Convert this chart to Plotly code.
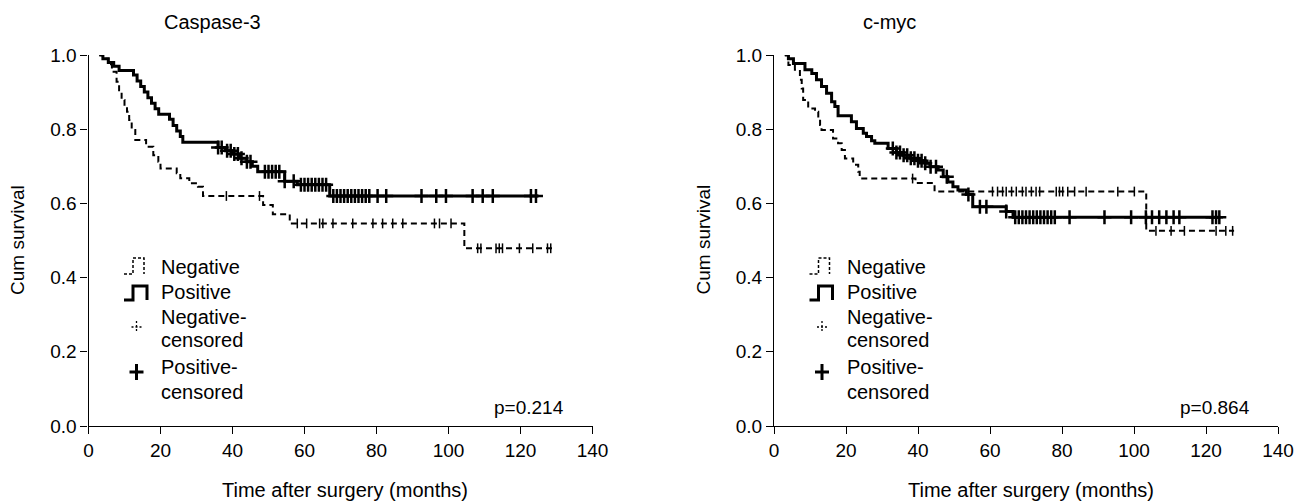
import plotly.graph_objects as go

# ---------------- data ----------------
titles = ["Caspase-3", "c-myc"]
p_values = ["p=0.214", "p=0.864"]
x_ticks = [0, 20, 40, 60, 80, 100, 120, 140]
y_ticks = [0.0, 0.2, 0.4, 0.6, 0.8, 1.0]
y_tick_labels = ["0.0", "0.2", "0.4", "0.6", "0.8", "1.0"]
legend_labels = ["Negative", "Positive", "Negative-", "censored", "Positive-", "censored"]

# Caspase-3, Positive
casp_pos_t = [3, 4, 5.5, 7, 8.5, 12.5, 13.5, 14.5, 15.5, 16.5, 17.5, 18.5, 19.5, 22.5, 23.5,
              24.5, 25.5, 26.2, 36, 38, 40, 42, 44, 45.5, 47, 54.5, 58, 67]
casp_pos_s = [1.0, 0.99, 0.98, 0.97, 0.958, 0.946, 0.93, 0.915, 0.9, 0.885, 0.87, 0.855, 0.84,
              0.827, 0.81, 0.795, 0.78, 0.765, 0.751, 0.742, 0.733, 0.722, 0.712, 0.7, 0.685,
              0.66, 0.65, 0.62]
casp_pos_end = 125
casp_pos_cens = [36, 37, 38.5, 39.5, 40.5, 41.5, 42.5, 44, 45, 49, 50, 51, 52, 53, 54.5, 57,
                 59, 60, 61, 62, 63, 64, 65, 66, 68, 69, 70, 71, 72, 73, 74, 75, 76, 77, 78,
                 80.3, 82.7, 92.5, 96.6, 99.3, 106.7, 109.5, 112.3, 122.9, 124.3]

# Caspase-3, Negative
casp_neg_t = [3, 4, 5.5, 6.5, 7.8, 8.5, 9.2, 10, 10.7, 11.3, 12, 13, 16, 18, 19.4, 20, 24.5,
              25.5, 28, 30.4, 31.8, 48.5, 51.2, 55.9, 104.4]
casp_neg_s = [1.0, 0.99, 0.975, 0.955, 0.928, 0.905, 0.879, 0.862, 0.847, 0.825, 0.798, 0.771,
              0.753, 0.73, 0.712, 0.694, 0.681, 0.668, 0.654, 0.645, 0.62, 0.596, 0.571, 0.546,
              0.479]
casp_neg_end = 128.9
casp_neg_cens = [38.3, 47.5, 58, 60.6, 64.2, 65.1, 67.9, 73.4, 79, 81.7, 84.5, 87.3, 96.1,
                 97.5, 100.7, 108.1, 109, 113.2, 114.1, 115, 119.7, 123.4, 127.5, 128.4]

# c-myc, Positive
myc_pos_t = [3, 4, 5.4, 8.6, 10.5, 11.8, 13.2, 14.6, 16, 16.9, 17.8, 21.5, 22.9, 24.8, 25.7,
             27.1, 28, 31.7, 34, 36, 38, 40, 42, 43.3, 45.6, 47, 48.3, 49.7, 51.1, 53.4, 55.2,
             64.5, 66.4]
myc_pos_s = [1.0, 0.99, 0.977, 0.96, 0.95, 0.933, 0.915, 0.897, 0.874, 0.861, 0.836, 0.82,
             0.802, 0.789, 0.78, 0.769, 0.762, 0.748, 0.737, 0.73, 0.722, 0.715, 0.708, 0.699,
             0.69, 0.672, 0.658, 0.645, 0.636, 0.624, 0.591, 0.578, 0.563]
myc_pos_end = 124
myc_pos_cens = [33, 34, 35, 36, 37, 38, 39, 40, 41, 42, 43.5, 45, 48, 54, 57.2, 59, 64.5, 67,
                68, 69, 70, 71, 72, 73, 74, 75, 76, 77, 78, 82.1, 91.8, 99.2, 103.3, 105, 107,
                109, 111, 112.6, 121.8, 122.8, 123.7]

# c-myc, Negative
myc_neg_t = [3, 4, 5.8, 7.2, 7.7, 8.1, 9.5, 11.4, 12.3, 12.8, 13.2, 16.4, 17.8, 18.8, 19.7,
             22, 23.4, 23.8, 39.3, 44.6, 103.4]
myc_neg_s = [1.0, 0.973, 0.96, 0.933, 0.91, 0.879, 0.856, 0.847, 0.829, 0.811, 0.798, 0.775,
             0.762, 0.744, 0.721, 0.704, 0.685, 0.667, 0.655, 0.632, 0.526]
myc_neg_end = 127.8
myc_neg_cens = [38.5, 60.7, 62.1, 63.5, 64.5, 66, 67.3, 69, 70, 71.5, 72.8, 73.8, 78.4, 79.3,
                80.2, 81.6, 83.5, 86.7, 95.5, 100.1, 106.1, 110.3, 114, 122.8, 125.5, 127.4]

# ---------------- layout helpers ----------------
W, H = 1304, 504
FONT = "Liberation Sans, Arial, sans-serif"


def px(x):
    return x / W


def py(y):
    return 1 - y / H


def km_at(ts, ss, c):
    idx = 0
    for i, t in enumerate(ts):
        if t <= c:
            idx = i
    return ss[idx]


fig = go.Figure()

panels = [
    ("x", "y", casp_pos_t, casp_pos_s, casp_pos_end, casp_pos_cens,
     casp_neg_t, casp_neg_s, casp_neg_end, casp_neg_cens),
    ("x2", "y2", myc_pos_t, myc_pos_s, myc_pos_end, myc_pos_cens,
     myc_neg_t, myc_neg_s, myc_neg_end, myc_neg_cens),
]

for xa, ya, pt, ps, pend, pc, nt, ns, nend, nc in panels:
    # negative (dashed)
    fig.add_trace(go.Scatter(x=nt + [nend], y=ns + [ns[-1]], xaxis=xa, yaxis=ya,
                             mode="lines", line=dict(color="black", width=2, dash="6px,4px",
                                                     shape="hv"),
                             showlegend=False, cliponaxis=False, hoverinfo="skip"))
    fig.add_trace(go.Scatter(x=nc, y=[km_at(nt, ns, c) for c in nc], xaxis=xa, yaxis=ya,
                             mode="markers",
                             marker=dict(symbol="line-ns", size=7, color="black",
                                         line=dict(color="black", width=1.5)),
                             showlegend=False, cliponaxis=False, hoverinfo="skip"))
    # positive (solid)
    fig.add_trace(go.Scatter(x=pt + [pend], y=ps + [ps[-1]], xaxis=xa, yaxis=ya,
                             mode="lines", line=dict(color="black", width=3, shape="hv"),
                             showlegend=False, cliponaxis=False, hoverinfo="skip"))
    fig.add_trace(go.Scatter(x=pc, y=[km_at(pt, ps, c) for c in pc], xaxis=xa, yaxis=ya,
                             mode="markers",
                             marker=dict(symbol="cross-thin", size=10, color="black",
                                         line=dict(color="black", width=2.5)),
                             showlegend=False, cliponaxis=False, hoverinfo="skip"))

axis_common = dict(showline=True, linecolor="black", linewidth=1.2, ticks="outside",
                   ticklen=7, tickwidth=1.2, tickcolor="black", showgrid=False,
                   zeroline=False, automargin=False,
                   tickfont=dict(family=FONT, size=19, color="black"))

left_dom = [px(88.5), px(592.5)]
right_dom = [px(774), px(1278)]
y_dom = [py(426), py(55)]

fig.update_layout(
    template="none",
    width=W, height=H, autosize=False,
    margin=dict(l=0, r=0, t=0, b=0, pad=0, autoexpand=False),
    paper_bgcolor="white", plot_bgcolor="white", showlegend=False,
    xaxis=dict(domain=left_dom, range=[0, 140], tickvals=x_ticks, anchor="y", **axis_common),
    yaxis=dict(domain=y_dom, range=[0, 1], tickvals=y_ticks, ticktext=y_tick_labels,
               anchor="x", **axis_common),
    xaxis2=dict(domain=right_dom, range=[0, 140], tickvals=x_ticks, anchor="y2",
                **axis_common),
    yaxis2=dict(domain=y_dom, range=[0, 1], tickvals=y_ticks, ticktext=y_tick_labels,
                anchor="x2", **axis_common),
)

annotations = []
shapes = []
offsets = [0, 685.5]
title_x = [212, 889]
for k, off in enumerate(offsets):
    annotations.append(dict(text=titles[k], x=px(title_x[k]), y=py(22), xref="paper",
                            yref="paper", showarrow=False, xanchor="center", yanchor="middle",
                            font=dict(family=FONT, size=20, color="black")))
    annotations.append(dict(text="Time after surgery (months)", x=px(345 + off), y=py(490),
                            xref="paper", yref="paper", showarrow=False, xanchor="center",
                            yanchor="middle", font=dict(family=FONT, size=20, color="black")))
    annotations.append(dict(text="Cum survival", x=px(17 + off), y=py(240), xref="paper",
                            yref="paper", showarrow=False, textangle=-90, xanchor="center",
                            yanchor="middle", font=dict(family=FONT, size=19, color="black")))
    annotations.append(dict(text=p_values[k], x=px(566 + off), y=py(407), xref="paper",
                            yref="paper", showarrow=False, xanchor="right", yanchor="middle",
                            font=dict(family=FONT, size=19, color="black")))
    rows = [266.7, 291.7, 316.7, 340, 366.7, 391.7]
    for lab, ry in zip(legend_labels, rows):
        annotations.append(dict(text=lab, x=px(159 + off), y=py(ry), xref="paper",
                                yref="paper", showarrow=False, xanchor="left",
                                yanchor="middle",
                                font=dict(family=FONT, size=20, color="black")))
    x0, x1, x2 = 124 + off, 133 + off, 144 + off
    shapes.append(dict(type="path", xref="paper", yref="paper",
                       path=f"M {px(x0)},{py(274)} L {px(x1)},{py(274)} L {px(x1)},{py(258)} "
                            f"L {px(x2)},{py(258)} L {px(x2)},{py(274)}",
                       line=dict(color="black", width=1.5, dash="3px,2px")))
    shapes.append(dict(type="path", xref="paper", yref="paper",
                       path=f"M {px(x0)},{py(300)} L {px(x1)},{py(300)} L {px(x1)},{py(286)} "
                            f"L {px(x2 + 3)},{py(286)} L {px(x2 + 3)},{py(300)}",
                       line=dict(color="black", width=3)))
    cx = 136.5 + off
    shapes.append(dict(type="line", xref="paper", yref="paper", x0=px(cx - 5), x1=px(cx + 5),
                       y0=py(327), y1=py(327),
                       line=dict(color="black", width=1.3, dash="2px,2px")))
    shapes.append(dict(type="line", xref="paper", yref="paper", x0=px(cx), x1=px(cx),
                       y0=py(321), y1=py(333),
                       line=dict(color="black", width=1.3, dash="2px,2px")))
    shapes.append(dict(type="line", xref="paper", yref="paper", x0=px(cx - 7), x1=px(cx + 7),
                       y0=py(372), y1=py(372), line=dict(color="black", width=3)))
    shapes.append(dict(type="line", xref="paper", yref="paper", x0=px(cx), x1=px(cx),
                       y0=py(364), y1=py(380), line=dict(color="black", width=3)))

fig.update_layout(annotations=annotations, shapes=shapes)
fig.write_html("out.html",
               config={"displayModeBar": False},
               post_script="document.body.style.margin='0';"
                           "document.body.style.overflow='hidden';")
